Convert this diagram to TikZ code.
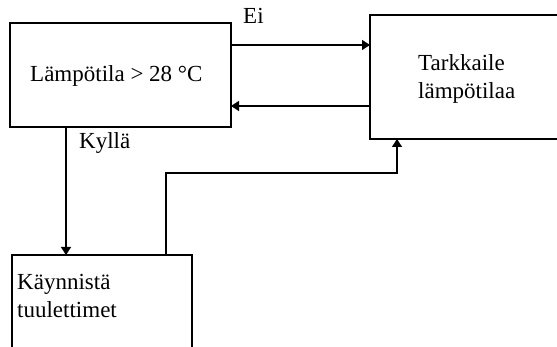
\documentclass[tikz,border=0pt]{standalone}
\usepackage{fontspec}
\setmainfont{Liberation Serif}
\usetikzlibrary{arrows.meta}
\begin{document}
\begin{tikzpicture}[x=1pt,y=-1pt,
  box/.style={draw,line width=1.3pt,rectangle,inner sep=0pt,outer sep=0pt},
  lbl/.style={inner sep=0pt,anchor=base west,font=\fontsize{23}{28}\selectfont},
  conn/.style={line width=1.3pt},
  arr/.style={conn,-{Triangle[length=8pt,width=10pt]}}]
\useasboundingbox (0,0) rectangle (557,347);
\clip (0,0) rectangle (557,347);
% boxes
\node[box,minimum width=221pt,minimum height=104pt] (b1) at (120.5,75) {};
\node[box,minimum width=240pt,minimum height=124pt] (b2) at (490,77) {};
\node[box,minimum width=180pt,minimum height=150pt] (b3) at (102,330) {};
% texts
\node[lbl] (t1) at (30,82) {Lämpötila > 28 °C};
\node[lbl,align=left] (t2) at (418,99) {Tarkkaile\\lämpötilaa};
\node[lbl,align=left] (t3) at (17,318) {Käynnistä\\tuulettimet};
\node[lbl] (ei) at (243,24) {Ei};
\node[lbl] (ky) at (79,149) {Kyllä};
% connectors
\draw[arr] (b1.east |- 0,45) -- (b2.west |- 0,45);
\draw[arr] (b2.west |- 0,106) -- (b1.east |- 0,106);
\draw[arr] (b1.south -| 66,0) -- (b3.north -| 66,0);
\coordinate (bend) at (397,173);
\draw[arr] (b3.north -| 166,0) |- (bend) -- (b2.south -| bend);
\end{tikzpicture}
\end{document}
